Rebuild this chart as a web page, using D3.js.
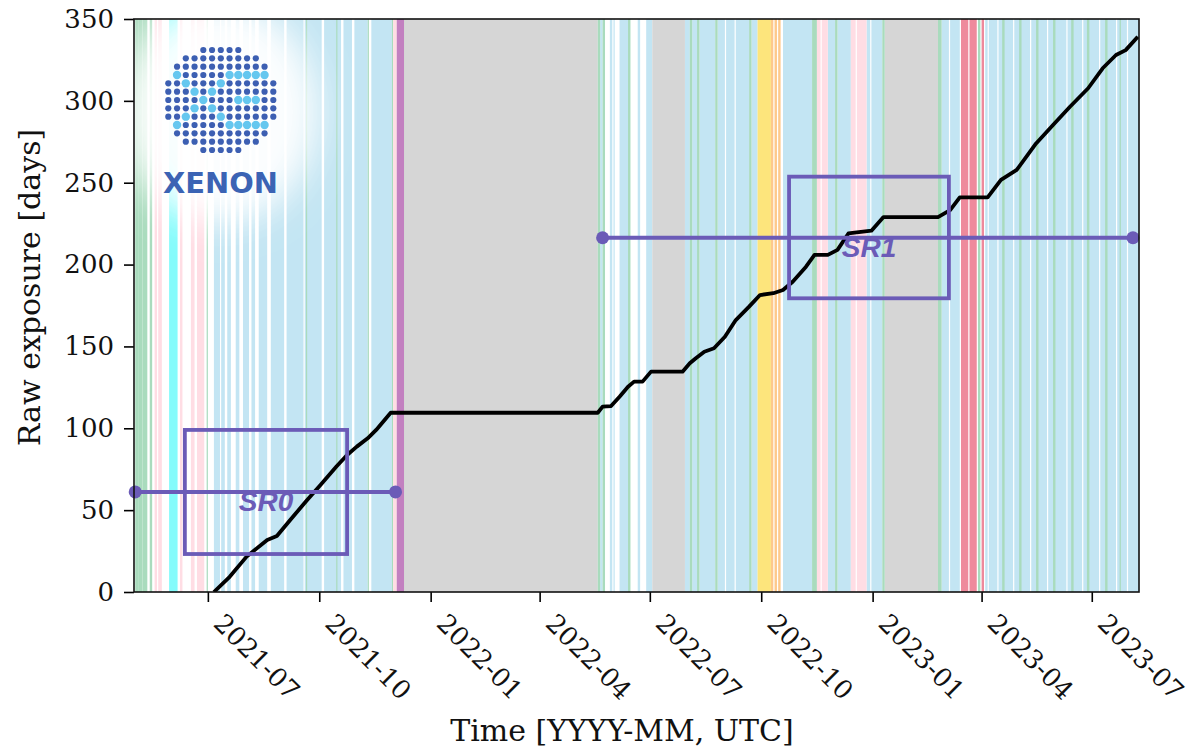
<!DOCTYPE html>
<html>
<head>
<meta charset="utf-8">
<script src="https://cdn.jsdelivr.net/npm/d3@7"></script>
<style>
  body { margin: 0; background: #fff; }
  svg { display: block; }
</style>
</head>
<body>
<svg id="chart" width="1202" height="747"></svg>
<script>
// Cumulative raw exposure [days] against calendar date
const exposureDates = [
  "2021-07-06", "2021-07-19", "2021-08-02", "2021-08-07", "2021-08-19", "2021-08-27",
  "2021-09-07", "2021-09-21", "2021-10-02", "2021-10-15", "2021-10-24", "2021-11-01",
  "2021-11-10", "2021-11-17", "2021-11-29", "2022-05-19", "2022-05-23", "2022-05-30",
  "2022-06-06", "2022-06-13", "2022-06-18", "2022-06-25", "2022-07-02", "2022-07-28",
  "2022-08-03", "2022-08-08", "2022-08-15", "2022-08-23", "2022-09-01", "2022-09-10",
  "2022-09-21", "2022-09-30", "2022-10-11", "2022-10-19", "2022-10-27", "2022-11-07",
  "2022-11-14", "2022-11-25", "2022-12-03", "2022-12-12", "2022-12-31", "2023-01-10",
  "2023-02-24", "2023-03-06", "2023-03-14", "2023-04-06", "2023-04-17", "2023-04-30",
  "2023-05-16", "2023-05-30", "2023-06-13", "2023-06-28", "2023-07-10", "2023-07-21",
  "2023-07-29", "2023-08-08"
];
const exposureDays = [
  0, 9.3, 21.6, 24.6, 31.8, 34.2,
  44.0, 56.2, 65.4, 76.5, 83.7, 88.8,
  93.9, 99.0, 109.5, 109.5, 113.2, 113.6,
  119.3, 125.4, 128.5, 128.5, 134.6, 134.6,
  139.7, 142.8, 146.8, 148.9, 155.9, 166.1,
  174.3, 181.4, 182.5, 184.5, 189.5, 198.7,
  205.9, 205.9, 209.0, 219.0, 220.7, 229.0,
  229.0, 233.3, 241.1, 241.1, 251.7, 257.8,
  274.0, 285.3, 296.4, 307.7, 319.9, 328.0,
  331.0, 339.2
];

// Detector operating periods, [start, end]
const backgroundRuns = [
  ["2021-07-06", "2021-07-11"], ["2021-07-12", "2021-07-15"], ["2021-07-17", "2021-07-20"],
  ["2021-07-24", "2021-07-27"], ["2021-07-30", "2021-08-04"], ["2021-08-06", "2021-08-09"],
  ["2021-08-12", "2021-08-19"], ["2021-08-22", "2021-09-02"], ["2021-09-04", "2021-09-18"],
  ["2021-09-19", "2021-10-03"], ["2021-10-05", "2021-10-19"], ["2021-10-21", "2021-10-28"],
  ["2021-10-30", "2021-11-10"], ["2021-11-13", "2021-11-30"],
  ["2022-05-21", "2022-05-23"], ["2022-05-29", "2022-05-31"], ["2022-06-01", "2022-06-02"],
  ["2022-06-06", "2022-06-13"], ["2022-06-21", "2022-06-23"], ["2022-06-28", "2022-07-03"],
  ["2022-07-30", "2022-08-03"], ["2022-08-05", "2022-08-09"], ["2022-08-11", "2022-08-24"],
  ["2022-08-26", "2022-09-01"], ["2022-09-02", "2022-09-09"], ["2022-09-10", "2022-09-21"],
  ["2022-09-23", "2022-09-28"], ["2022-10-19", "2022-11-12"], ["2022-11-25", "2022-12-01"],
  ["2022-12-03", "2022-12-14"], ["2022-12-27", "2022-12-30"], ["2022-12-31", "2023-01-09"],
  ["2023-02-27", "2023-03-05"], ["2023-03-06", "2023-03-14"],
  ["2023-04-04", "2023-04-06"], ["2023-04-07", "2023-04-14"], ["2023-04-15", "2023-04-27"],
  ["2023-04-28", "2023-05-11"], ["2023-05-12", "2023-05-25"], ["2023-05-26", "2023-06-10"],
  ["2023-06-11", "2023-06-23"], ["2023-06-24", "2023-07-07"], ["2023-07-08", "2023-07-21"],
  ["2023-07-22", "2023-07-30"], ["2023-07-31", "2023-08-10"]
];
const rnCalibrations = [
  ["2021-05-02", "2021-05-05"], ["2021-05-05", "2021-05-08"], ["2021-05-08", "2021-05-12"],
  ["2021-05-14", "2021-05-16"], ["2021-06-30", "2021-07-01"], ["2021-09-20", "2021-09-21"],
  ["2021-10-15", "2021-10-16"], ["2021-11-10", "2021-11-11"], ["2021-11-30", "2021-12-01"],
  ["2022-05-19", "2022-05-21"], ["2022-05-23", "2022-05-25"], ["2022-06-13", "2022-06-15"],
  ["2022-08-03", "2022-08-05"], ["2022-08-09", "2022-08-11"], ["2022-08-24", "2022-08-26"],
  ["2022-09-21", "2022-09-23"], ["2022-11-12", "2022-11-16"], ["2022-12-01", "2022-12-03"],
  ["2023-01-09", "2023-01-11"], ["2023-02-24", "2023-02-27"], ["2023-03-29", "2023-03-31"],
  ["2023-04-18", "2023-04-20"], ["2023-05-02", "2023-05-04"], ["2023-05-16", "2023-05-18"],
  ["2023-05-30", "2023-06-01"], ["2023-06-14", "2023-06-16"], ["2023-06-27", "2023-06-29"],
  ["2023-07-12", "2023-07-14"], ["2023-07-24", "2023-07-25"]
];
const krCalibrations = [
  ["2021-05-18", "2021-05-20"], ["2021-05-21", "2021-05-24"], ["2021-06-08", "2021-06-10"],
  ["2021-06-17", "2021-06-20"], ["2021-06-22", "2021-06-28"], ["2021-12-01", "2021-12-04"],
  ["2022-11-16", "2022-11-19"], ["2022-11-20", "2022-11-25"],
  ["2022-12-14", "2022-12-18"], ["2022-12-19", "2022-12-27"]
];
const arCalibrations = [["2021-05-30", "2021-06-06"]];
const neutronCalibrations = [["2021-12-04", "2021-12-10"]];
const detectorDowntime = [
  ["2021-12-10", "2022-05-19"], ["2022-07-03", "2022-07-30"], ["2023-01-11", "2023-02-24"]
];
const ybeCalibrations = [["2022-09-28", "2022-10-09"]];
const ambeCalibrations = [
  ["2022-10-09", "2022-10-11"], ["2022-10-12", "2022-10-14"], ["2022-10-15", "2022-10-17"]
];
const thCalibrations = [
  ["2023-03-15", "2023-03-21"], ["2023-03-22", "2023-03-28"], ["2023-04-01", "2023-04-03"]
];

// Science runs: horizontal span, level and marker box
const scienceRuns = ["SR0", "SR1"];
const srSpanStart = ["2021-05-02", "2022-05-23"];
const srSpanEnd = ["2021-12-03", "2023-08-04"];
const srLevel = [61.1, 216.4];
const srBoxStart = ["2021-06-12", "2022-10-24"];
const srBoxEnd = ["2021-10-24", "2023-03-05"];
const srBoxLow = [23.2, 179.4];
const srBoxHigh = [99.0, 253.7];

const xTickDates = [
  "2021-07-01", "2021-10-01", "2022-01-01", "2022-04-01", "2022-07-01",
  "2022-10-01", "2023-01-01", "2023-04-01", "2023-07-01"
];
const yTickValues = [0, 50, 100, 150, 200, 250, 300, 350];
const xDomain = ["2021-05-01", "2023-08-09"];
const yDomain = [0, 350];

// ---------------------------------------------------------------
const parse = d3.utcParse("%Y-%m-%d");
const svg = d3.select("#chart");
const W = 1202, H = 747;
const margin = { top: 19, right: 63, bottom: 155, left: 134 };

const x = d3.scaleUtc().domain(xDomain.map(parse)).range([margin.left, W - margin.right]);
const y = d3.scaleLinear().domain(yDomain).range([H - margin.bottom, margin.top]);

const serif = "'DejaVu Serif', serif";
const purple = "#6b5bb7";

const defs = svg.append("defs");
defs.append("clipPath").attr("id", "plot-clip")
  .append("rect")
  .attr("x", margin.left).attr("y", margin.top)
  .attr("width", W - margin.left - margin.right)
  .attr("height", H - margin.top - margin.bottom);
defs.append("filter").attr("id", "halo-blur")
  .attr("x", "-50%").attr("y", "-50%").attr("width", "200%").attr("height", "200%")
  .append("feGaussianBlur").attr("stdDeviation", 18);

const plot = svg.append("g").attr("clip-path", "url(#plot-clip)");

// period bands
const bandLayers = [
  { runs: backgroundRuns, fill: "#c3e5f3" },
  { runs: detectorDowntime, fill: "#d6d6d6" },
  { runs: rnCalibrations, fill: "#a9dbbd" },
  { runs: krCalibrations, fill: "#ffdde4" },
  { runs: arCalibrations, fill: "#84fbfb" },
  { runs: neutronCalibrations, fill: "#c280c0" },
  { runs: ybeCalibrations, fill: "#fde57c" },
  { runs: ambeCalibrations, fill: "#fdc98c" },
  { runs: thCalibrations, fill: "#ee8a9c" }
];
bandLayers.forEach(layer => {
  plot.append("g").selectAll("rect")
    .data(layer.runs)
    .join("rect")
    .attr("x", d => x(parse(d[0])))
    .attr("width", d => Math.max(0.8, x(parse(d[1])) - x(parse(d[0]))))
    .attr("y", margin.top)
    .attr("height", H - margin.top - margin.bottom)
    .attr("fill", layer.fill);
});

// logo with soft white glow
const logo = plot.append("g");
logo.append("ellipse")
  .attr("cx", 220).attr("cy", 112).attr("rx", 98).attr("ry", 112)
  .attr("fill", "#fff").attr("opacity", 0.95)
  .attr("filter", "url(#halo-blur)");

const dotCx = 220.8, dotCy = 100, dx = 8.75, dy = 8.33;
const accent = new Set([
  "3,1", "3,7", "3,8", "3,9", "3,10", "3,11",
  "4,2", "4,6", "5,3", "5,5", "6,4", "6,8", "6,9", "6,10",
  "7,3", "7,5", "8,2", "8,6",
  "9,1", "9,7", "9,8", "9,9", "9,10", "9,11"
]);
const logoDots = [];
for (let r = 0; r < 13; r++) {
  for (let c = 0; c < 13; c++) {
    const px = (c - 6) * dx, py = (r - 6) * dy;
    if (Math.hypot(px, py) <= 55.5) logoDots.push({ r, c, px, py, hi: accent.has(r + "," + c) });
  }
}
logo.selectAll("circle")
  .data(logoDots)
  .join("circle")
  .attr("cx", d => dotCx + d.px)
  .attr("cy", d => dotCy + d.py)
  .attr("r", d => d.hi ? 4.2 : 3.1)
  .attr("fill", d => d.hi ? "#65c7ef" : "#3d5fb2");
logo.append("text")
  .attr("x", 163).attr("y", 193)
  .attr("textLength", 115).attr("lengthAdjust", "spacingAndGlyphs")
  .attr("font-family", "'DejaVu Sans', sans-serif")
  .attr("font-weight", "bold").attr("font-size", 28)
  .attr("fill", "#3b63b4")
  .text("XENON");

// exposure curve
const curve = exposureDates.map((d, i) => [parse(d), exposureDays[i]]);
plot.append("path")
  .datum(curve)
  .attr("fill", "none")
  .attr("stroke", "#000")
  .attr("stroke-width", 3.8)
  .attr("stroke-linejoin", "round")
  .attr("d", d3.line().x(d => x(d[0])).y(d => y(d[1])));

// science-run markers
const sr = scienceRuns.map((name, i) => ({
  name,
  start: parse(srSpanStart[i]), end: parse(srSpanEnd[i]), level: srLevel[i],
  b0: parse(srBoxStart[i]), b1: parse(srBoxEnd[i]), lo: srBoxLow[i], hi: srBoxHigh[i]
}));
const srG = svg.append("g");
srG.selectAll("rect")
  .data(sr).join("rect")
  .attr("x", d => x(d.b0)).attr("y", d => y(d.hi))
  .attr("width", d => x(d.b1) - x(d.b0)).attr("height", d => y(d.lo) - y(d.hi))
  .attr("fill", "none").attr("stroke", purple).attr("stroke-width", 3.8);
srG.selectAll("line")
  .data(sr).join("line")
  .attr("x1", d => x(d.start)).attr("x2", d => x(d.end))
  .attr("y1", d => y(d.level)).attr("y2", d => y(d.level))
  .attr("stroke", purple).attr("stroke-width", 4);
srG.selectAll("circle")
  .data(sr.flatMap(d => [[d.start, d.level], [d.end, d.level]]))
  .join("circle")
  .attr("cx", d => x(d[0])).attr("cy", d => y(d[1])).attr("r", 6.5)
  .attr("fill", purple);
srG.selectAll("text")
  .data(sr).join("text")
  .attr("x", d => (x(d.b0) + x(d.b1)) / 2)
  .attr("y", d => y(d.level) + 19)
  .attr("text-anchor", "middle")
  .attr("font-family", "'Liberation Sans', Arial, sans-serif")
  .attr("font-weight", "bold").attr("font-style", "italic")
  .attr("font-size", 28)
  .attr("fill", purple)
  .text(d => d.name);

// axes
const tickFont = 26, titleFont = 30;
const yAxis = svg.append("g")
  .attr("transform", `translate(${margin.left},0)`)
  .call(d3.axisLeft(y).tickValues(yTickValues).tickSize(10).tickPadding(10));
const xAxis = svg.append("g")
  .attr("transform", `translate(0,${H - margin.bottom})`)
  .call(d3.axisBottom(x).tickValues(xTickDates.map(parse))
    .tickFormat(d3.utcFormat("%Y-%m")).tickSize(10));
[xAxis, yAxis].forEach(g => {
  g.select(".domain").remove();
  g.selectAll(".tick line").attr("stroke", "#000").attr("stroke-width", 1.6);
  g.selectAll(".tick text")
    .attr("font-family", serif).attr("font-size", tickFont).attr("fill", "#111");
});
xAxis.selectAll(".tick text")
  .attr("x", 0).attr("y", 0).attr("dy", null)
  .attr("text-anchor", "start")
  .attr("transform", "translate(4,33) rotate(45)");

// frame
svg.append("rect")
  .attr("x", margin.left).attr("y", margin.top)
  .attr("width", W - margin.left - margin.right)
  .attr("height", H - margin.top - margin.bottom)
  .attr("fill", "none").attr("stroke", "#111").attr("stroke-width", 1.6);

// axis titles
svg.append("text")
  .attr("x", 622).attr("y", 741)
  .attr("text-anchor", "middle")
  .attr("font-family", serif).attr("font-size", titleFont).attr("fill", "#111")
  .text("Time [YYYY-MM, UTC]");
svg.append("text")
  .attr("transform", `translate(40,${(margin.top + H - margin.bottom) / 2 - 18}) rotate(-90)`)
  .attr("text-anchor", "middle")
  .attr("font-family", serif).attr("font-size", titleFont).attr("fill", "#111")
  .text("Raw exposure [days]");
</script>
</body>
</html>
